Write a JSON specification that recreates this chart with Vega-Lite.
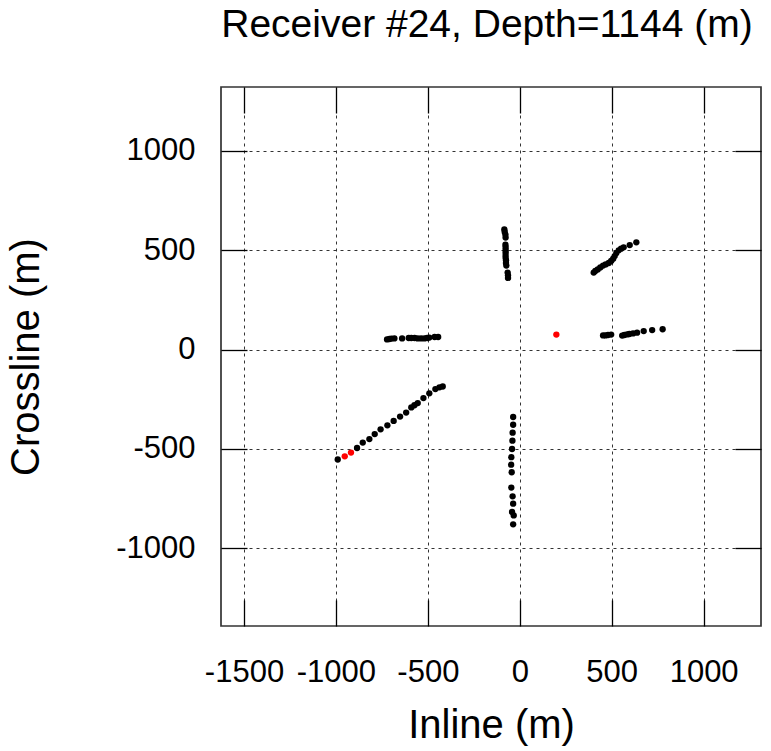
{
  "$schema": "https://vega.github.io/schema/vega-lite/v6.json",
  "width": 540,
  "height": 539,
  "autosize": {"type": "none"},
  "padding": {"left": 221, "top": 87, "right": 10, "bottom": 125},
  "background": "white",
  "config": {
    "font": "Liberation Sans",
    "view": {"stroke": "#333333", "strokeWidth": 1.7},
    "axis": {
      "domain": false,
      "tickColor": "#000000",
      "tickWidth": 1.3,
      "tickSize": -26,
      "gridColor": "#333333",
      "gridDash": [3, 4],
      "gridWidth": 1,
      "gridOpacity": 1,
      "labelFont": "Liberation Sans",
      "labelFontSize": 31,
      "labelColor": "#000000",
      "labelExpr": "'' + datum.value",
      "titleFont": "Liberation Sans",
      "titleFontSize": 40,
      "titleFontWeight": "normal",
      "titleColor": "#000000"
    }
  },
  "title": {
    "text": "Receiver #24, Depth=1144 (m)",
    "font": "Liberation Sans",
    "fontSize": 39,
    "fontWeight": "normal",
    "color": "#000000",
    "anchor": "middle",
    "baseline": "alphabetic",
    "offset": 10,
    "dx": -4
  },
  "data": {
    "values": [
      {"inline": -990, "crossline": -553, "kind": "shot"},
      {"inline": -885, "crossline": -495, "kind": "shot"},
      {"inline": -854, "crossline": -468, "kind": "shot"},
      {"inline": -818, "crossline": -450, "kind": "shot"},
      {"inline": -789, "crossline": -425, "kind": "shot"},
      {"inline": -757, "crossline": -401, "kind": "shot"},
      {"inline": -720, "crossline": -381, "kind": "shot"},
      {"inline": -686, "crossline": -359, "kind": "shot"},
      {"inline": -651, "crossline": -337, "kind": "shot"},
      {"inline": -618, "crossline": -317, "kind": "shot"},
      {"inline": -590, "crossline": -291, "kind": "shot"},
      {"inline": -573, "crossline": -280, "kind": "shot"},
      {"inline": -555, "crossline": -269, "kind": "shot"},
      {"inline": -524, "crossline": -244, "kind": "shot"},
      {"inline": -492, "crossline": -220, "kind": "shot"},
      {"inline": -459, "crossline": -199, "kind": "shot"},
      {"inline": -437, "crossline": -190, "kind": "shot"},
      {"inline": -419, "crossline": -186, "kind": "shot"},
      {"inline": -722, "crossline": 51, "kind": "shot"},
      {"inline": -709, "crossline": 53, "kind": "shot"},
      {"inline": -698, "crossline": 55, "kind": "shot"},
      {"inline": -682, "crossline": 56, "kind": "shot"},
      {"inline": -640, "crossline": 56, "kind": "shot"},
      {"inline": -604, "crossline": 58, "kind": "shot"},
      {"inline": -590, "crossline": 58, "kind": "shot"},
      {"inline": -572, "crossline": 58, "kind": "shot"},
      {"inline": -555, "crossline": 56, "kind": "shot"},
      {"inline": -537, "crossline": 56, "kind": "shot"},
      {"inline": -519, "crossline": 56, "kind": "shot"},
      {"inline": -504, "crossline": 58, "kind": "shot"},
      {"inline": -492, "crossline": 60, "kind": "shot"},
      {"inline": -463, "crossline": 63, "kind": "shot"},
      {"inline": -444, "crossline": 63, "kind": "shot"},
      {"inline": -84, "crossline": 604, "kind": "shot"},
      {"inline": -82, "crossline": 591, "kind": "shot"},
      {"inline": -78, "crossline": 578, "kind": "shot"},
      {"inline": -77, "crossline": 563, "kind": "shot"},
      {"inline": -78, "crossline": 527, "kind": "shot"},
      {"inline": -77, "crossline": 515, "kind": "shot"},
      {"inline": -77, "crossline": 502, "kind": "shot"},
      {"inline": -77, "crossline": 489, "kind": "shot"},
      {"inline": -77, "crossline": 475, "kind": "shot"},
      {"inline": -77, "crossline": 462, "kind": "shot"},
      {"inline": -75, "crossline": 449, "kind": "shot"},
      {"inline": -75, "crossline": 435, "kind": "shot"},
      {"inline": -73, "crossline": 422, "kind": "shot"},
      {"inline": -66, "crossline": 387, "kind": "shot"},
      {"inline": -64, "crossline": 373, "kind": "shot"},
      {"inline": -64, "crossline": 360, "kind": "shot"},
      {"inline": 402, "crossline": 387, "kind": "shot"},
      {"inline": 411, "crossline": 395, "kind": "shot"},
      {"inline": 424, "crossline": 403, "kind": "shot"},
      {"inline": 438, "crossline": 413, "kind": "shot"},
      {"inline": 453, "crossline": 422, "kind": "shot"},
      {"inline": 467, "crossline": 428, "kind": "shot"},
      {"inline": 484, "crossline": 435, "kind": "shot"},
      {"inline": 497, "crossline": 445, "kind": "shot"},
      {"inline": 508, "crossline": 457, "kind": "shot"},
      {"inline": 516, "crossline": 470, "kind": "shot"},
      {"inline": 525, "crossline": 485, "kind": "shot"},
      {"inline": 538, "crossline": 499, "kind": "shot"},
      {"inline": 551, "crossline": 507, "kind": "shot"},
      {"inline": 565, "crossline": 514, "kind": "shot"},
      {"inline": 598, "crossline": 525, "kind": "shot"},
      {"inline": 634, "crossline": 539, "kind": "shot"},
      {"inline": 453, "crossline": 71, "kind": "shot"},
      {"inline": 466, "crossline": 71, "kind": "shot"},
      {"inline": 480, "crossline": 73, "kind": "shot"},
      {"inline": 497, "crossline": 75, "kind": "shot"},
      {"inline": 557, "crossline": 70, "kind": "shot"},
      {"inline": 569, "crossline": 73, "kind": "shot"},
      {"inline": 584, "crossline": 76, "kind": "shot"},
      {"inline": 596, "crossline": 78, "kind": "shot"},
      {"inline": 616, "crossline": 81, "kind": "shot"},
      {"inline": 638, "crossline": 85, "kind": "shot"},
      {"inline": 674, "crossline": 93, "kind": "shot"},
      {"inline": 720, "crossline": 98, "kind": "shot"},
      {"inline": 777, "crossline": 102, "kind": "shot"},
      {"inline": -36, "crossline": -339, "kind": "shot"},
      {"inline": -36, "crossline": -378, "kind": "shot"},
      {"inline": -39, "crossline": -418, "kind": "shot"},
      {"inline": -40, "crossline": -458, "kind": "shot"},
      {"inline": -42, "crossline": -500, "kind": "shot"},
      {"inline": -46, "crossline": -541, "kind": "shot"},
      {"inline": -47, "crossline": -579, "kind": "shot"},
      {"inline": -44, "crossline": -617, "kind": "shot"},
      {"inline": -46, "crossline": -694, "kind": "shot"},
      {"inline": -39, "crossline": -738, "kind": "shot"},
      {"inline": -36, "crossline": -775, "kind": "shot"},
      {"inline": -42, "crossline": -817, "kind": "shot"},
      {"inline": -33, "crossline": -834, "kind": "shot"},
      {"inline": -36, "crossline": -879, "kind": "shot"},
      {"inline": -952, "crossline": -537, "kind": "highlight"},
      {"inline": -918, "crossline": -518, "kind": "highlight"},
      {"inline": 199, "crossline": 75, "kind": "highlight"}
    ]
  },
  "layer": [
    {
      "mark": {"type": "circle", "size": 40, "opacity": 1},
      "encoding": {
        "x": {
          "field": "inline",
          "type": "quantitative",
          "scale": {"domain": [-1625, 1312], "nice": false, "zero": false},
          "axis": {
            "orient": "bottom",
            "values": [-1500, -1000, -500, 0, 500, 1000],
            "title": "Inline (m)",
            "labelPadding": 57,
            "titlePadding": 18,
            "grid": true,
            "labelFlush": false,
            "labelOverlap": false
          }
        },
        "y": {
          "field": "crossline",
          "type": "quantitative",
          "scale": {"domain": [-1390, 1320], "nice": false, "zero": false},
          "axis": {
            "orient": "left",
            "values": [-1000, -500, 0, 500, 1000],
            "title": "Crossline (m)",
            "labelPadding": 52,
            "titlePadding": 69,
            "grid": true,
            "labelFlush": false,
            "labelOverlap": false
          }
        },
        "color": {
          "field": "kind",
          "type": "nominal",
          "scale": {"domain": ["shot", "highlight"], "range": ["#000000", "#ff0000"]},
          "legend": null
        }
      }
    },
    {
      "mark": {"type": "circle", "size": 40, "opacity": 0},
      "encoding": {
        "x": {
          "field": "inline",
          "type": "quantitative",
          "axis": {
            "orient": "top",
            "values": [-1500, -1000, -500, 0, 500, 1000],
            "title": null,
            "labels": false,
            "grid": false
          }
        },
        "y": {
          "field": "crossline",
          "type": "quantitative",
          "axis": {
            "orient": "right",
            "values": [-1000, -500, 0, 500, 1000],
            "title": null,
            "labels": false,
            "grid": false
          }
        }
      }
    }
  ],
  "resolve": {"axis": {"x": "independent", "y": "independent"}}
}
